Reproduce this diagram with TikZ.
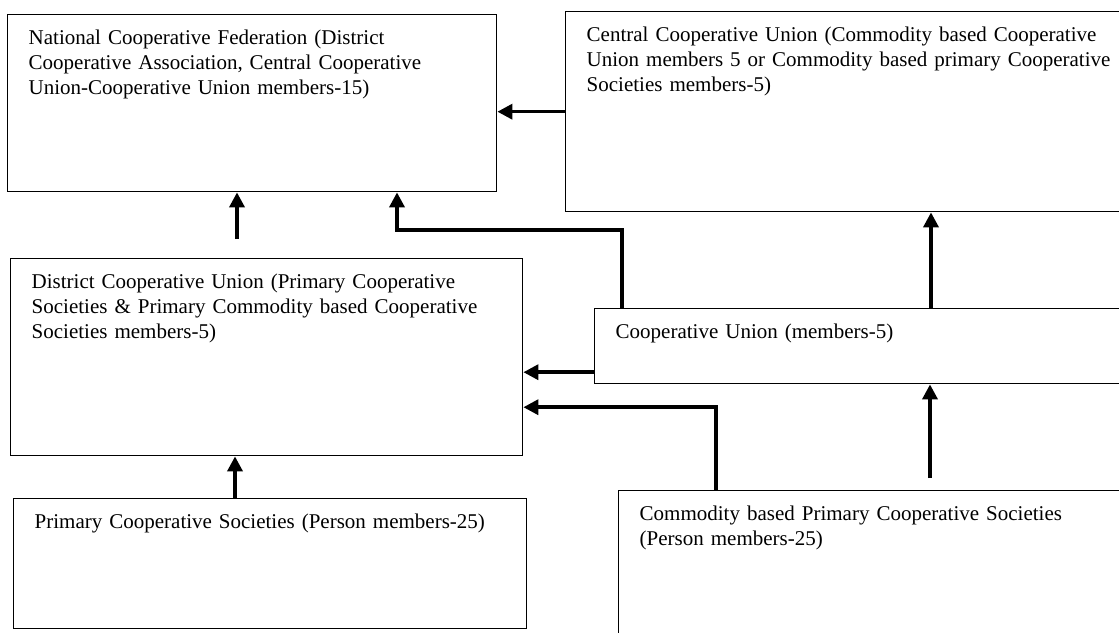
\documentclass[tikz,border=0pt]{standalone}
\usepackage{fontspec}
\setmainfont{Liberation Serif}
\usepackage{tikz}
\usetikzlibrary{arrows.meta, positioning, calc}
\tikzset{
    box/.style={
        rectangle, draw=black, line width=1.4pt, anchor=north west,
        align=left, inner xsep=21pt, inner ysep=0pt, text height=30pt,
        font=\fontsize{21}{25}\selectfont
    },
    arrow/.style={-{Triangle[length=15pt, width=15pt]}, line width=3.5pt, color=black},
}

\begin{document}
\begin{tikzpicture}[x=1pt, y=-1pt]
    \useasboundingbox (0,0) rectangle (1119,632);

    \node[box, text width=447pt, text depth=147pt] (national) at (7,14) {National Cooperative Federation (District\\Cooperative Association, Central Cooperative\\Union-Cooperative Union members-15)};
    \node[box, text width=540pt, text depth=170pt] (central) at (565,11) {Central Cooperative Union (Commodity based Cooperative\\Union members 5 or Commodity based primary Cooperative\\Societies members-5)};
    \node[box, text width=470pt, text depth=167pt] (district) at (10,258) {District Cooperative Union (Primary Cooperative\\Societies \& Primary Commodity based Cooperative\\Societies members-5)};
    \node[box, text width=500pt, text depth=45pt] (coopunion) at (594,308) {Cooperative Union (members-5)};
    \node[box, text width=471pt, text depth=100pt] (primary) at (13,498) {Primary Cooperative Societies (Person members-25)};
    \node[box, text width=500pt, text depth=120pt] (commodity) at (618,490) {Commodity based Primary Cooperative Societies\\(Person members-25)};

    \coordinate (dist2nat) at (237,239);
    \coordinate (bend) at (397,230);
    \coordinate (com2coop) at (930,478);

    \draw[arrow] (central.west) -- (central.west -| national.east);
    \draw[arrow] (dist2nat) -- (dist2nat |- national.south);
    \draw[arrow] ([xshift=28pt]coopunion.north west) |- (bend) -- (bend |- national.south);
    \draw[arrow] ([xshift=337pt]coopunion.north west) -- ([xshift=366pt]central.south west);
    \draw[arrow] ([yshift=-26pt]coopunion.west) -- ([yshift=-26pt]coopunion.west -| district.east);
    \draw[arrow] ([xshift=98pt]commodity.north west) |- ([yshift=-50pt]district.east);
    \draw[arrow] (com2coop) -- (com2coop |- coopunion.south);
    \draw[arrow] ([xshift=222pt]primary.north west) -- ([xshift=225pt]district.south west);
\end{tikzpicture}
\end{document}
